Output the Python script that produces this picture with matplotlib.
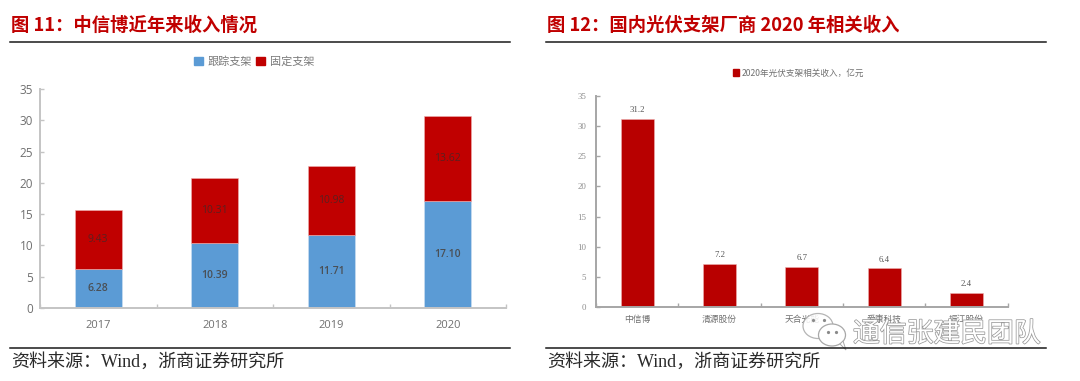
import matplotlib
matplotlib.use("Agg")
import numpy as np
import matplotlib.pyplot as plt
import matplotlib.patheffects as pe
from matplotlib.patches import Ellipse, Polygon, Patch

W = 1080
H = 381

SANS = ['Open Sans', 'Noto Sans CJK SC', 'DejaVu Sans']
CJK = ['Noto Sans CJK SC', 'DejaVu Sans']
SERIF = ['Liberation Serif', 'Noto Sans CJK SC', 'DejaVu Sans']

years = ['2017', '2018', '2019', '2020']
tracking = [6.28, 10.39, 11.71, 17.10]
fixed = [9.43, 10.31, 10.98, 13.62]

makers = ['中信博', '清源股份', '天合光能', '爱康科技', '振江股份']
income = [31.2, 7.2, 6.7, 6.4, 2.4]

BLUE = '#5b9bd5'
RED = '#c00000'
RED2 = '#b80000'
TITLE_RED = '#c00000'


# axes placed by pixel box, top-left origin like the picture
def px_axes(fig, x0, y0, x1, y1):
    return fig.add_axes([x0 / W, 1 - y1 / H, (x1 - x0) / W, (y1 - y0) / H])


def style_axes(ax, n, color, lw):
    for s in ['top', 'right']:
        ax.spines[s].set_visible(False)
    for s in ['left', 'bottom']:
        ax.spines[s].set_color(color)
        ax.spines[s].set_linewidth(lw)
    ax.set_xlim(-0.5, n - 0.5)
    ax.set_ylim(0, 35)
    ax.set_yticks(range(0, 36, 5))
    ax.set_xticks(np.arange(-0.5, n, 1), minor=True)
    ax.tick_params(axis='x', which='major', length=0)
    ax.tick_params(axis='x', which='minor', direction='in', length=3, color=color, width=1)
    ax.tick_params(axis='y', direction='in', length=3, color=color, width=1)
    ax.patch.set_alpha(0)


fig = plt.figure(figsize=(W / 100, H / 100), dpi=100)

# left chart
ax1 = px_axes(fig, 40, 89, 506, 308)
x1 = np.arange(len(years))
b1 = ax1.bar(x1, tracking, width=0.4, color=BLUE, edgecolor='#cfe0f2', linewidth=0.4)
b2 = ax1.bar(x1, fixed, width=0.4, bottom=tracking, color=RED, edgecolor='#eeb0b0', linewidth=0.4)
style_axes(ax1, len(years), '#c4c4c4', 1.4)
ax1.set_xticks(x1)
ax1.set_xticklabels(years, family=SANS, fontsize=8, color='#6f6f6f')
ax1.tick_params(axis='x', which='major', pad=9)
ax1.tick_params(axis='y', pad=5)
for t in ax1.get_yticklabels():
    t.set_family(SANS)
    t.set_fontsize(8.5)
    t.set_color('#6f6f6f')
for i in x1:
    ax1.text(i, tracking[i] / 2, '%.2f' % tracking[i], ha='center', va='center',
             family=SANS, fontsize=7.5, color='#4a4f55', fontweight='semibold')
    ax1.text(i, tracking[i] + fixed[i] / 2, '%.2f' % fixed[i], ha='center', va='center',
             family=SANS, fontsize=7.5, color='#5a2020')

# right chart
ax2 = px_axes(fig, 596, 96, 1007.5, 307)
x2 = np.arange(len(makers))
b3 = ax2.bar(x2, income, width=0.4, color=RED2, edgecolor='#eeb0b0', linewidth=0.4)
style_axes(ax2, len(makers), '#a6a6a6', 1.4)
ax2.set_xticks(x2)
ax2.set_xticklabels(makers, family=CJK, fontsize=6.3, color='#707070')
ax2.tick_params(axis='x', which='major', pad=6)
ax2.tick_params(axis='y', pad=7)
for t in ax2.get_yticklabels():
    t.set_family(SERIF)
    t.set_fontsize(6.3)
    t.set_color('#8c8c8c')
for i in x2:
    ax2.annotate('%.1f' % income[i], (i, income[i]), xytext=(0, 3.5), textcoords='offset points',
                 ha='center', va='bottom', family=SERIF, fontsize=6.3, color='#555555')

# page furniture, in pixel coordinates
page = fig.add_axes([0, 0, 1, 1])
page.set_xlim(0, W)
page.set_ylim(H, 0)
page.axis('off')
page.patch.set_alpha(0)

for x0, x1_, title in [(10, 510, '图 11：中信博近年来收入情况'),
                       (546, 1046, '图 12：国内光伏支架厂商 2020 年相关收入')]:
    page.text(x0 + 1, 25, title, ha='left', va='center', family=CJK, fontsize=13.2,
              fontweight='bold', color=TITLE_RED)
    page.plot([x0, x1_], [42, 42], color='#1a1a1a', lw=1.1)
    page.plot([x0, x1_], [348, 348], color='#1a1a1a', lw=1.1)
    page.text(x0 + 1, 362, '资料来源：Wind，浙商证券研究所', ha='left', va='center',
              family=SERIF, fontsize=13, color='#2a2a2a')

fig.legend(handles=[Patch(color=BLUE, label='跟踪支架'), Patch(color=RED, label='固定支架')],
           loc='center', bbox_to_anchor=(254 / W, 1 - 61.5 / H), ncol=2, frameon=False,
           prop={'family': CJK, 'size': 8}, labelcolor='#7a7a7a',
           handlelength=0.8, handleheight=0.8, handletextpad=0.4, columnspacing=0.4)
fig.legend(handles=[Patch(color=RED2, label='2020年光伏支架相关收入，亿元')],
           loc='center', bbox_to_anchor=(799 / W, 1 - 73 / H), frameon=False,
           prop={'family': CJK, 'size': 6.2}, labelcolor='#707070',
           handlelength=0.7, handleheight=0.7, handletextpad=0.3)

# watermark
page.text(853, 334, '通信张建民团队', ha='left', va='center', family=CJK, fontsize=19.3,
          color='white', path_effects=[pe.withStroke(linewidth=1.1, foreground='#9a9a9a')])
page.add_patch(Ellipse((818, 326), 30, 25, fc='white', ec='#a8a8a8', lw=0.9, alpha=0.85))
page.add_patch(Ellipse((832, 335), 27, 22, fc='white', ec='#a8a8a8', lw=0.9))
page.add_patch(Polygon([(840, 344), (846, 350), (843, 341)], fc='white', ec='#a8a8a8', lw=0.7))
page.plot([813, 824, 828, 836], [320, 320, 332, 332], ls='none', marker='o', ms=1.3, color='#8a8a8a')

fig.savefig('out.png', dpi=100)
